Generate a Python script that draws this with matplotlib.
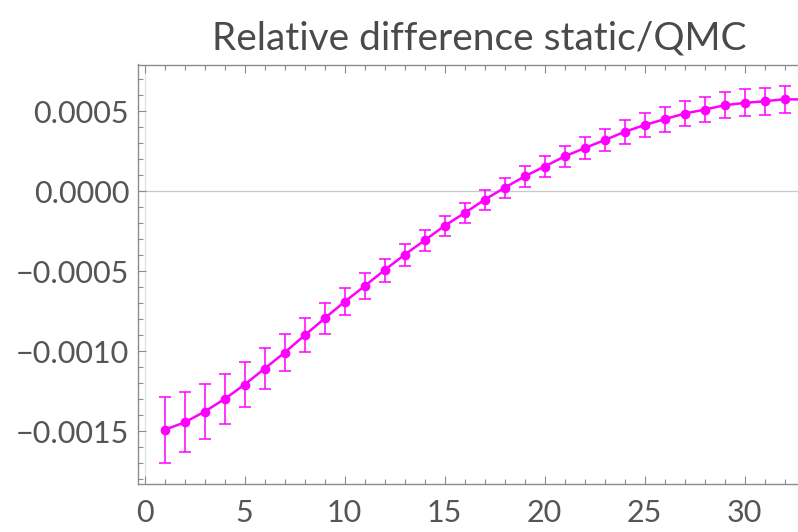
import matplotlib
matplotlib.use("Agg")
import matplotlib.pyplot as plt
from matplotlib.ticker import MultipleLocator, FuncFormatter

# Relative difference static/QMC
n_values = list(range(1, 34))
rel_diff = [
    -0.001492, -0.001446, -0.001379, -0.001300, -0.001210, -0.001110,
    -0.001010, -0.000902, -0.000796, -0.000692, -0.000594, -0.000494,
    -0.000398, -0.000308, -0.000217, -0.000137, -0.000054, 0.000021,
    0.000092, 0.000154, 0.000217, 0.000269, 0.000319, 0.000371,
    0.000413, 0.000450, 0.000485, 0.000510, 0.000537, 0.000552,
    0.000562, 0.000575, 0.000573,
]
rel_err = [
    0.000206, 0.000188, 0.000171, 0.000156, 0.000140, 0.000127,
    0.000117, 0.000106, 0.000097, 0.000085, 0.000080, 0.000072,
    0.000070, 0.000067, 0.000062, 0.000063, 0.000063, 0.000063,
    0.000065, 0.000065, 0.000067, 0.000070, 0.000070, 0.000073,
    0.000077, 0.000079, 0.000080, 0.000080, 0.000081, 0.000084,
    0.000084, 0.000084, 0.000084,
]

MAGENTA = "#ff00ff"
FRAME = "#8c8c8c"
TEXT = "#555555"

plt.rcParams["font.family"] = ["Lato", "DejaVu Sans"]


def y_label(v, pos):
    s = f"{abs(v):.4f}"
    return "\u2212" + s if v < -1e-12 else s


fig = plt.figure(figsize=(7.98, 5.32), dpi=100)
# frame runs off the right edge of the picture, as in the reference
ax = fig.add_axes([137.5 / 798, 48 / 532, 683 / 798, 419.5 / 532])

ax.axhline(0, color="#c8c8c8", lw=0.9, zorder=1)
ax.axvline(0, color="#e0e0e0", lw=0.9, zorder=1)

ax.errorbar(n_values, rel_diff, yerr=rel_err, color=MAGENTA, ecolor=MAGENTA,
            lw=1.8, elinewidth=1.1, capsize=4, capthick=1.1,
            marker="o", markersize=6, zorder=3)

ax.set_xlim(-0.35, 33.8)
ax.set_ylim(-0.001831, 0.000792)

ax.xaxis.set_major_locator(MultipleLocator(5))
ax.xaxis.set_minor_locator(MultipleLocator(1))
ax.yaxis.set_major_locator(MultipleLocator(0.0005))
ax.yaxis.set_minor_locator(MultipleLocator(0.0001))
ax.yaxis.set_major_formatter(FuncFormatter(y_label))

for side in ax.spines.values():
    side.set_color(FRAME)
    side.set_linewidth(1.0)

ax.tick_params(which="both", direction="in", top=True, right=True,
               color=FRAME, width=0.8)
ax.tick_params(which="major", length=6, labelsize=22, labelcolor=TEXT, pad=6)
ax.tick_params(which="minor", length=3.5)
ax.tick_params(axis="x", which="major", pad=11)

ax.set_title("Relative difference static/QMC", fontsize=28, color="#4a4a4a", pad=11)

fig.savefig("out.png", dpi=100)
